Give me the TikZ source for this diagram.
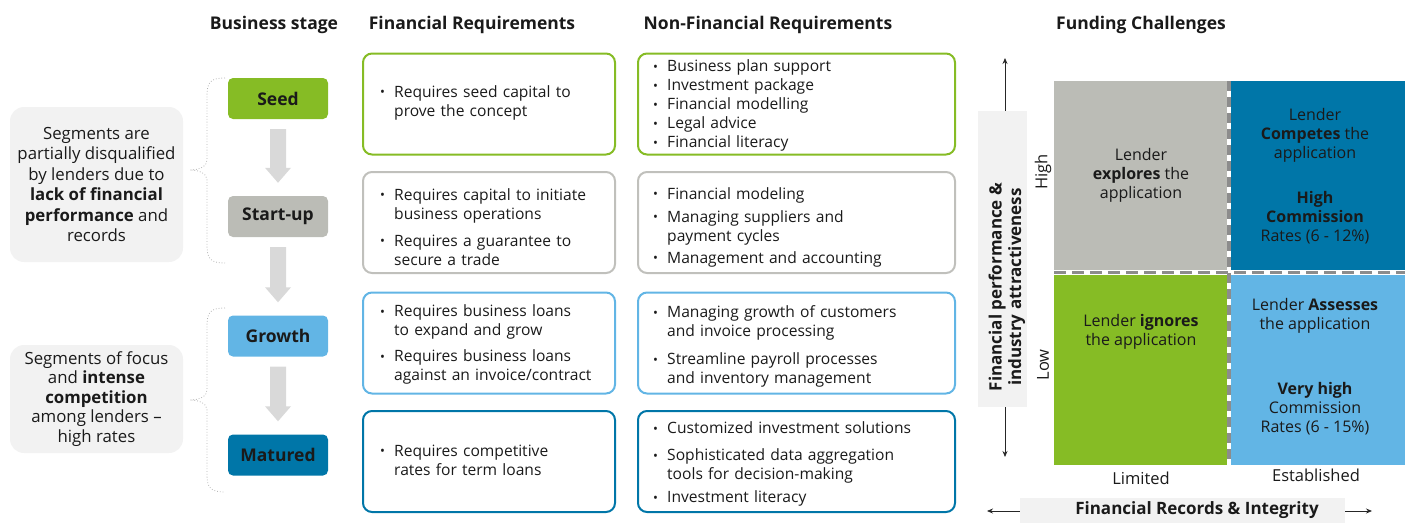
\documentclass[tikz,border=0pt]{standalone}
\usepackage{fontspec}
\setmainfont{Open Sans}
\usetikzlibrary{arrows.meta,calc}
\definecolor{cgreen}{HTML}{86BC25}
\definecolor{cgray}{HTML}{BBBCB6}
\definecolor{clblue}{HTML}{62B5E5}
\definecolor{cdblue}{HTML}{0076A8}
\definecolor{cpanel}{HTML}{F2F2F2}
\definecolor{carrow}{HTML}{D9D9D9}
\definecolor{cbordergray}{HTML}{C0C0BC}
\definecolor{cdash}{HTML}{8C8C8C}
\definecolor{ctext}{HTML}{1A1A1A}
\newcommand\bi{\par\noindent\llap{\makebox[14pt][l]{\raisebox{0.5pt}{\fontsize{13}{13}\selectfont •}}}}
\newcommand\gp[1]{\par\vspace{#1pt}}
\newcommand\blockarrow[2]{\fill[carrow] ($(#1.south)+(-8,10)$) -- ($(#1.south)+(8,10)$) -- ($(#2.north)+(8,-28)$) -- ($(#2.north)+(13,-28)$) -- ($(#2.north)+(0,-13)$) -- ($(#2.north)+(-13,-28)$) -- ($(#2.north)+(-8,-28)$) -- cycle;}
\begin{document}
\begin{tikzpicture}[x=1pt,y=-1pt,
  every node/.style={text=ctext},
  hdr/.style={font=\fontsize{17.5}{20}\selectfont\bfseries},
  stagebox/.style={rectangle,rounded corners=5pt,minimum width=100pt,minimum height=41pt,font=\fontsize{17.5}{20}\selectfont\bfseries,inner sep=0pt},
  panel/.style={rectangle,rounded corners=14pt,fill=cpanel,minimum width=173pt,align=center,inner sep=0pt,font=\fontsize{16.8}{20.5}\selectfont},
  brace/.style={draw=black!30,dotted,line width=0.8pt},
  rbox/.style={rectangle,rounded corners=9pt,line width=2pt,minimum height=101pt,inner sep=0pt},
  fbox/.style={rbox,minimum width=252pt},
  nbox/.style={rbox,minimum width=317pt},
  txt/.style={anchor=west,inner sep=0pt,align=left,font=\fontsize{15.6}{19}\selectfont},
  quad/.style={rectangle,inner sep=0pt,minimum width=174pt},
  qtxt/.style={align=center,inner sep=0pt,font=\fontsize{16}{19}\selectfont},
  axlab/.style={inner sep=0pt,font=\fontsize{16.5}{19}\selectfont},
  axarrow/.style={-{Stealth[length=6pt,width=5pt]},line width=0.8pt,draw=black!85}
]
\useasboundingbox (0,0) rectangle (1405,522);

% headers
\node[hdr] (h1) at (274,25) {Business stage};
\node[hdr] (h2) at (472,25) {Financial Requirements};
\node[hdr] (h3) at (768,25) {Non-Financial Requirements};
\node[hdr] (h4) at (1141,25) {Funding Challenges};

% stages
\node[stagebox,fill=cgreen] (seed) at (278,98.5) {Seed};
\node[stagebox,fill=cgray] (startup) at (278,216.5) {Start-up};
\node[stagebox,fill=clblue] (growth) at (278,336) {Growth};
\node[stagebox,fill=cdblue] (matured) at (278,455) {Matured};
\blockarrow{seed}{startup}
\blockarrow{startup}{growth}
\blockarrow{growth}{matured}

% left panels
\node[panel,minimum height=155pt] (p1) at (96.5,184.5) {Segments are\\partially disqualified\\by lenders due to\\\textbf{lack of financial}\\\textbf{performance} and\\records};
\node[panel,minimum height=108pt,font=\fontsize{16.8}{19.5}\selectfont] (p2) at (96.5,399) {Segments of focus\\and \textbf{intense}\\\textbf{competition}\\among lenders --\\high rates};

% braces
\coordinate (b1) at (190,170);
\coordinate (b2) at (190,400);
\draw[brace] (225,78) .. controls (211,78) and (207,82) .. (207,95) -- (207,160) .. controls (207,166) and (200,170) .. (b1) .. controls (200,170) and (207,174) .. (207,180) -- (207,246) .. controls (207,259) and (211,263) .. (225,263);
\draw[brace] (225,308) .. controls (211,308) and (207,312) .. (207,325) -- (207,390) .. controls (207,396) and (200,400) .. (b2) .. controls (200,400) and (207,404) .. (207,410) -- (207,475) .. controls (207,488) and (211,492) .. (225,492);

% requirement boxes
\node[fbox,draw=cgreen] (fr1) at (489,104) {};
\node[fbox,draw=cbordergray] (fr2) at (489,222.5) {};
\node[fbox,draw=clblue] (fr3) at (489,343) {};
\node[fbox,draw=cdblue] (fr4) at (489,461.5) {};
\node[nbox,draw=cgreen] (nf1) at (796.5,104) {};
\node[nbox,draw=cbordergray] (nf2) at (796.5,222.5) {};
\node[nbox,draw=clblue] (nf3) at (796.5,343) {};
\node[nbox,draw=cdblue] (nf4) at (796.5,461.5) {};

\node[txt,text width=232pt] (fr1t) at ($(fr1.west)+(18,-5)$) {\leftskip=14pt\bi Requires seed capital to\\prove the concept\par};
\node[txt,text width=232pt] (fr2t) at ($(fr2.west)+(18,1)$) {\leftskip=14pt\bi Requires capital to initiate\\business operations\gp{8}\bi Requires a guarantee to\\secure a trade\par};
\node[txt,text width=232pt] (fr3t) at ($(fr3.west)+(18,-2)$) {\leftskip=14pt\bi Requires business loans\\to expand and grow\gp{7}\bi Requires business loans\\against an invoice/contract\par};
\node[txt,text width=232pt] (fr4t) at ($(fr4.west)+(18,-5)$) {\leftskip=14pt\bi Requires competitive\\rates for term loans\par};

\node[txt,text width=295pt] (nf1t) at ($(nf1.west)+(17,-2)$) {\leftskip=13pt\bi Business plan support\bi Investment package\bi Financial modelling\bi Legal advice\bi Financial literacy\par};
\node[txt,text width=295pt] (nf2t) at ($(nf2.west)+(17,1)$) {\leftskip=13pt\bi Financial modeling\gp{4}\bi Managing suppliers and\\payment cycles\gp{3}\bi Management and accounting\par};
\node[txt,text width=295pt] (nf3t) at ($(nf3.west)+(17,0)$) {\leftskip=13pt\bi Managing growth of customers\\and invoice processing\gp{9}\bi Streamline payroll processes\\and inventory management\par};
\node[txt,text width=295pt] (nf4t) at ($(nf4.west)+(17,-1)$) {\leftskip=13pt\bi Customized investment solutions\gp{8}\bi Sophisticated data aggregation\\tools for decision-making\gp{4}\bi Investment literacy\par};

% quadrants
\node[quad,fill=cgray,minimum width=173pt,minimum height=189pt,anchor=north west] (q1) at (1054,81) {};
\node[quad,fill=cdblue,minimum height=189pt,anchor=north west] (q2) at (1231,81) {};
\node[quad,fill=cgreen,minimum width=173pt,minimum height=190pt,anchor=north west] (q3) at (1054,275) {};
\node[quad,fill=clblue,minimum height=190pt,anchor=north west] (q4) at (1231,275) {};
\coordinate (vtop) at (1229,81);
\coordinate (vbot) at (1229,465);
\coordinate (hl) at (1054,272.5);
\coordinate (hr) at (1405,272.5);
\draw[white,line width=4pt] (vtop) -- (vbot);
\draw[white,line width=5pt] (hl) -- (hr);
\draw[cdash,line width=4pt,dash pattern=on 10pt off 6pt] (vtop) -- (vbot);
\draw[cdash,line width=3.5pt,dash pattern=on 12pt off 6pt] (hl) -- (hr);

\node[qtxt] (q1t) at (1141,175) {Lender\\\textbf{explores} the\\application};
\node[qtxt] (q2t) at (1315,135) {Lender\\\textbf{Competes} the\\application};
\node[qtxt] (q2r) at (1315,218) {\textbf{High}\\\textbf{Commission}\\Rates (6 - 12\%)};
\node[qtxt] (q3t) at (1141,331.5) {Lender \textbf{ignores}\\the application};
\node[qtxt] (q4t) at (1315,315.5) {Lender \textbf{Assesses}\\the application};
\node[qtxt] (q4r) at (1315,409) {\textbf{Very high}\\Commission\\Rates (6 - 15\%)};

% y axis
\node[rectangle,fill=cpanel,minimum width=49pt,minimum height=296pt,inner sep=0pt] (yax) at (1002.5,259) {};
\node[rotate=90,align=center,inner sep=0pt,font=\fontsize{17}{19.5}\selectfont\bfseries] (yaxt) at (1007,287) {Financial performance \&\\industry attractiveness};
\coordinate (ytop) at (1005,58);
\coordinate (ybot) at (1005,457);
\draw[axarrow] (yax.north -| ytop) -- (ytop);
\draw[axarrow] (yax.south -| ybot) -- (ybot);
\node[axlab,rotate=90] (high) at (1043,172) {High};
\node[axlab,rotate=90] (low) at (1043,365) {Low};

% x axis
\node[rectangle,fill=cpanel,minimum width=325pt,minimum height=25pt,inner sep=0pt] (xax) at (1182.5,510) {};
\node[inner sep=0pt,font=\fontsize{17}{19}\selectfont\bfseries] (xaxt) at (1197,510) {Financial Records \& Integrity};
\coordinate (xl) at (987,511);
\coordinate (xr) at (1372,511);
\draw[axarrow] (xax.west |- xl) -- (xl);
\draw[axarrow] (xax.east |- xr) -- (xr);
\node[axlab] (lim) at (1141,478) {Limited};
\node[axlab] (est) at (1316,475) {Established};
\end{tikzpicture}
\end{document}
